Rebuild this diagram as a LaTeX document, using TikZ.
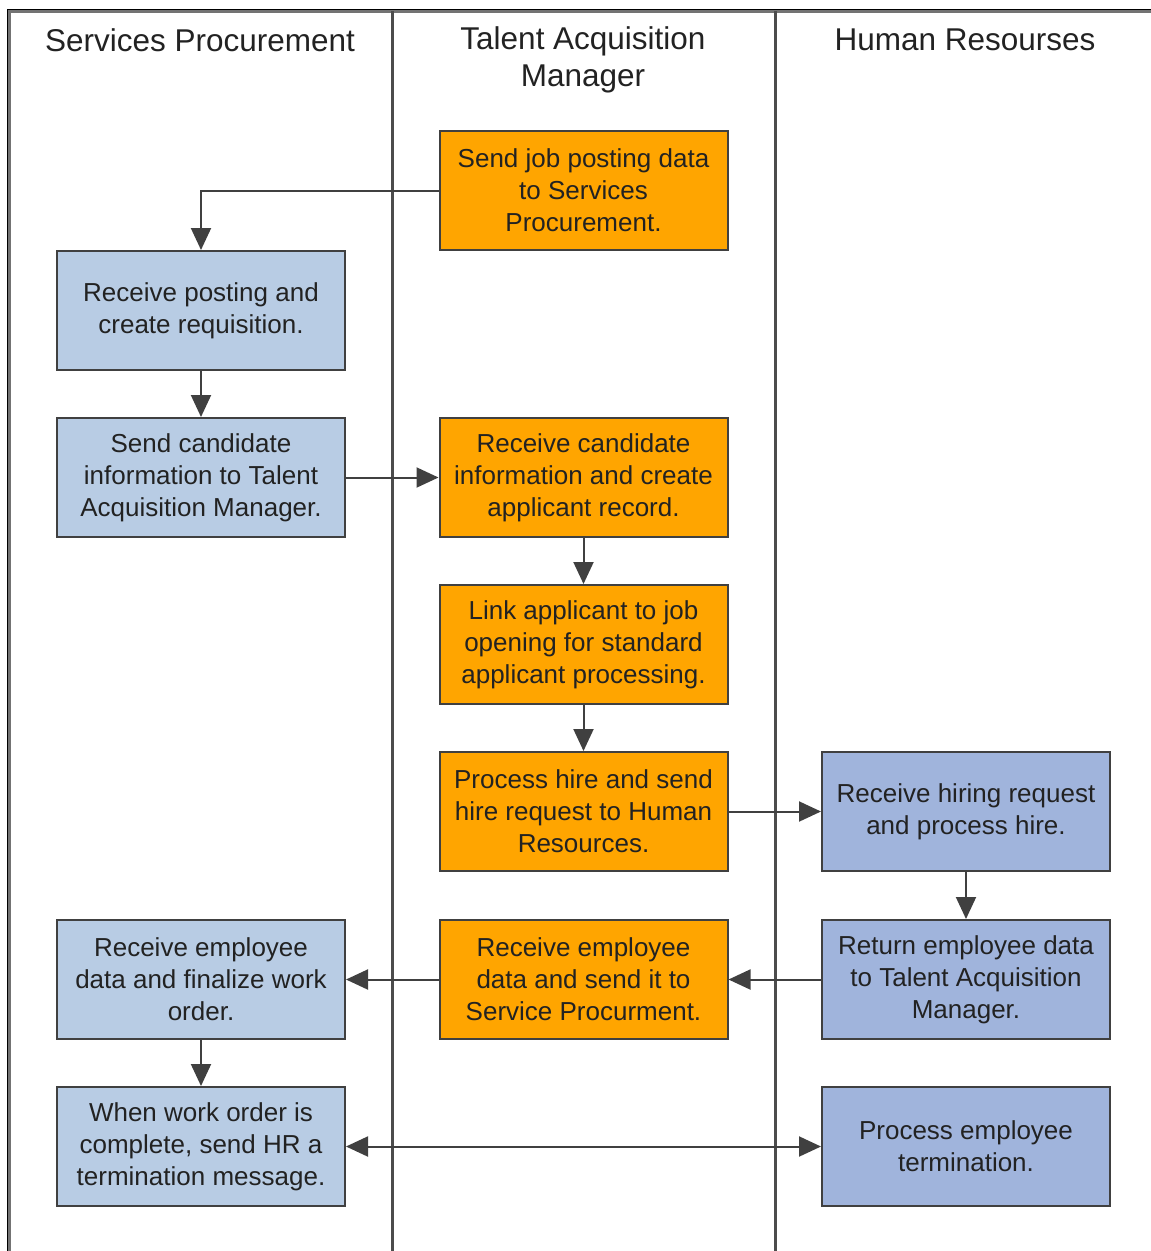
\documentclass[tikz,border=0pt]{standalone}
\usepackage{fontspec}
\setmainfont{Liberation Sans}
\usetikzlibrary{arrows.meta}
\definecolor{lblue}{HTML}{B8CCE4}
\definecolor{rblue}{HTML}{A0B4DC}
\definecolor{orng}{HTML}{FFA500}
\definecolor{edge}{HTML}{404040}
\definecolor{txt}{HTML}{222222}
\tikzset{
  box/.style={draw=edge, line width=2pt, minimum width=288pt, minimum height=119pt, inner sep=0pt,
    align=center, text=txt, font=\fontsize{26}{32}\selectfont},
  sp/.style={box, fill=lblue},
  ta/.style={box, fill=orng},
  hr/.style={box, fill=rblue},
  conn/.style={draw=edge, line width=2pt, -{Triangle[length=22pt,width=20pt]}},
  lane/.style={draw=black!70, line width=3pt},
  head/.style={text=txt, font=\fontsize{31.5}{37}\selectfont, align=center, inner sep=0pt}
}
\begin{document}
\begin{tikzpicture}[x=1pt,y=-1pt]
\useasboundingbox (0,0) rectangle (1151,1251);
% frame
\draw[line width=3pt, black!55] (9.5,1251) -- (9.5,11.5) -- (1151,11.5);
\draw[line width=1pt, black] (7.5,1251) -- (7.5,9.5) -- (1151,9.5);
\draw[lane] (392,11) -- (392,1251);
\draw[lane] (775,11) -- (775,1251);
% headers
\node[head] (h1) at (200,40) {Services Procurement};
\node[head] (h2) at (583,60) {Talent Acquisition\\Manager};
\node[head] (h3) at (965,40) {Human Resourses};
% boxes
\node[ta] (t1) at (583.5,190.5) {Send job posting data\\to Services\\Procurement.};
\node[sp] (s1) at (201,310.5) {Receive posting and\\create requisition.};
\node[sp] (s2) at (201,477.5) {Send candidate\\information to Talent\\Acquisition Manager.};
\node[ta] (t2) at (583.5,477.5) {Receive candidate\\information and create\\applicant record.};
\node[ta] (t3) at (583.5,644.5) {Link applicant to job\\opening for standard\\applicant processing.};
\node[ta] (t4) at (583.5,811.5) {Process hire and send\\hire request to Human\\Resources.};
\node[hr] (r1) at (966,811.5) {Receive hiring request\\and process hire.};
\node[hr] (r2) at (966,979.5) {Return employee data\\to Talent Acquisition\\Manager.};
\node[ta] (t5) at (583.5,979.5) {Receive employee\\data and send it to\\Service Procurment.};
\node[sp] (s3) at (201,979.5) {Receive employee\\data and finalize work\\order.};
\node[sp] (s4) at (201,1146.5) {When work order is\\complete, send HR a\\termination message.};
\node[hr] (r3) at (966,1146.5) {Process employee\\termination.};
% connectors
\draw[conn] (t1.west) -| (s1.north);
\draw[conn] (s1) -- (s2);
\draw[conn] (s2) -- (t2);
\draw[conn] (t2) -- (t3);
\draw[conn] (t3) -- (t4);
\draw[conn] (t4) -- (r1);
\draw[conn] (r1) -- (r2);
\draw[conn] (r2) -- (t5);
\draw[conn] (t5) -- (s3);
\draw[conn] (s3) -- (s4);
\draw[conn, {Triangle[length=22pt,width=20pt]}-{Triangle[length=22pt,width=20pt]}] (s4) -- (r3);
\end{tikzpicture}
\end{document}
